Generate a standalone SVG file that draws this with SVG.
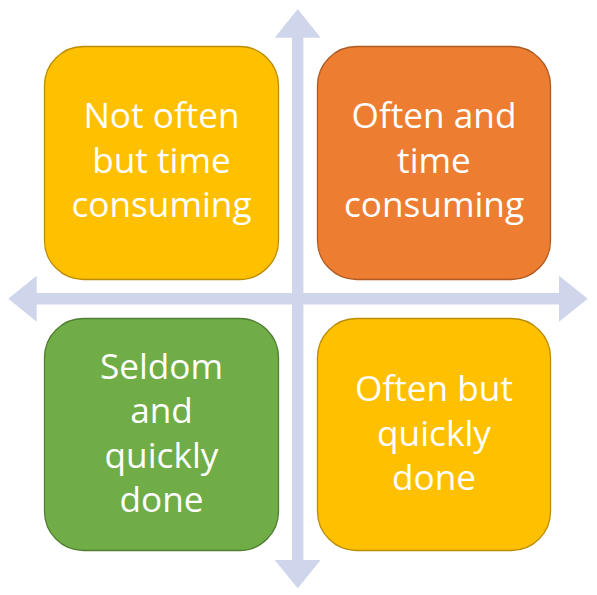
<svg xmlns="http://www.w3.org/2000/svg" width="597" height="595" viewBox="0 0 597 595">
<style>
.lbl{font-family:"Open Sans","Noto Sans","Liberation Sans",sans-serif;font-size:35.2px;fill:#FFFFFF;text-anchor:middle}
.axis{fill:#CFD5EA;stroke:none}
.yel{fill:#FFC000;stroke:#BC8C00;stroke-width:1.3}
.org{fill:#ED7D31;stroke:#AE5A21;stroke-width:1.3}
.grn{fill:#70AD47;stroke:#507E32;stroke-width:1.3}
</style>
<rect width="597" height="595" fill="#FFFFFF"/>
<g id="connectors">
<polygon class="axis" points="297.7,9 320.7,37.7 303.4,37.7 303.4,560 320.7,560 297.7,588.3 274.7,560 292,560 292,37.7 274.7,37.7"/>
<polygon class="axis" points="8.3,298.8 36.7,275.8 36.7,293.1 559,293.1 559,275.8 587.7,298.8 559,321.8 559,304.5 36.7,304.5 36.7,321.8"/>
</g>
<g id="node-tl">
<rect class="yel" x="44.5" y="46.5" width="234" height="233" rx="39" ry="39"/>
<text class="lbl" x="161.5" y="128.3">Not often</text>
<text class="lbl" x="161.5" y="172.7">but time</text>
<text class="lbl" x="161.5" y="216.7">consuming</text>
</g>
<g id="node-tr">
<rect class="org" x="317.5" y="46.5" width="233" height="233" rx="39" ry="39"/>
<text class="lbl" x="434" y="128.3">Often and</text>
<text class="lbl" x="434" y="172.7">time</text>
<text class="lbl" x="434" y="216.7">consuming</text>
</g>
<g id="node-bl">
<rect class="grn" x="44.5" y="318.5" width="234" height="232" rx="39" ry="39"/>
<text class="lbl" x="161.5" y="379">Seldom</text>
<text class="lbl" x="161.5" y="423.3">and</text>
<text class="lbl" x="161.5" y="467.7">quickly</text>
<text class="lbl" x="161.5" y="512.3">done</text>
</g>
<g id="node-br">
<rect class="yel" x="317.5" y="318.5" width="233" height="232" rx="39" ry="39"/>
<text class="lbl" x="434" y="401">Often but</text>
<text class="lbl" x="434" y="445.7">quickly</text>
<text class="lbl" x="434" y="490">done</text>
</g>
</svg>
